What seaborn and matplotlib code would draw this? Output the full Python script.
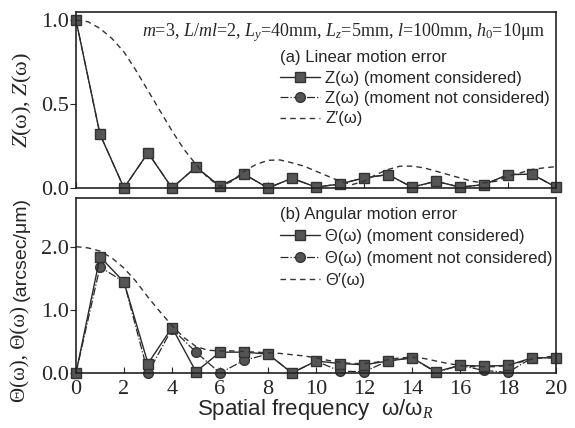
import numpy as np
import pandas as pd
import matplotlib
matplotlib.use('Agg')
import matplotlib.pyplot as plt
import seaborn as sns

# spatial frequency (integer harmonics)
freq = list(range(21))
# fine grid for the analytic dashed curves
freq_fine = [i * 0.5 for i in range(41)]

# (a) linear motion error
z_moment = [1.0, 0.32, 0.0, 0.21, 0.0, 0.125, 0.01, 0.083, 0.0, 0.058, 0.005,
            0.024, 0.06, 0.08, 0.005, 0.04, 0.005, 0.02, 0.08, 0.082, 0.005]
z_no_moment = [1.0, 0.32, 0.0, 0.21, 0.0, 0.125, 0.01, 0.083, 0.0, 0.058, 0.005,
               0.024, 0.06, 0.08, 0.005, 0.04, 0.005, 0.02, 0.08, 0.082, 0.005]
z_prime = [1.0, 0.99, 0.95, 0.89, 0.81, 0.70, 0.58, 0.46, 0.34, 0.23, 0.14,
           0.06, 0.01, 0.04, 0.10, 0.14, 0.165, 0.167, 0.15, 0.13, 0.10,
           0.07, 0.04, 0.02, 0.04, 0.08, 0.11, 0.13, 0.13, 0.12, 0.10,
           0.08, 0.06, 0.04, 0.03, 0.04, 0.07, 0.09, 0.11, 0.12, 0.127]

# (b) angular motion error
th_moment = [0.0, 1.84, 1.44, 0.15, 0.72, 0.02, 0.33, 0.33, 0.30, 0.0, 0.19,
             0.15, 0.13, 0.19, 0.24, 0.02, 0.12, 0.11, 0.12, 0.24, 0.24]
th_no_moment = [0.0, 1.68, 1.44, 0.0, 0.70, 0.33, 0.0, 0.20, 0.30, 0.0, 0.19,
                0.03, 0.02, 0.19, 0.24, 0.01, 0.12, 0.04, 0.01, 0.24, 0.24]
th_prime = [2.0, 1.98, 1.93, 1.82, 1.66, 1.45, 1.20, 0.97, 0.75, 0.56, 0.42,
            0.36, 0.35, 0.35, 0.34, 0.33, 0.32, 0.31, 0.29, 0.27, 0.24,
            0.20, 0.17, 0.15, 0.15, 0.17, 0.21, 0.24, 0.25, 0.23, 0.19,
            0.15, 0.12, 0.10, 0.10, 0.10, 0.12, 0.17, 0.22, 0.25, 0.27]

sns.set_style('ticks')
plt.rcParams['font.family'] = ['Liberation Serif', 'DejaVu Serif']
plt.rcParams['mathtext.fontset'] = 'custom'
plt.rcParams['mathtext.it'] = 'Liberation Serif:italic'
plt.rcParams['mathtext.rm'] = 'Liberation Serif'

W, H = 575, 428
fig = plt.figure(figsize=(W / 100, H / 100), dpi=100)


def fx(px):
    return px / W


def fy(py):
    return 1 - py / H


ax1 = fig.add_axes([fx(76), fy(188), fx(556) - fx(76), fy(12) - fy(188)])
ax2 = fig.add_axes([fx(76), fy(373), fx(556) - fx(76), fy(198) - fy(373)])

line_col = '#2a2a2a'
mk = dict(markersize=7, markerfacecolor='#555555', markeredgecolor='#333333',
          markeredgewidth=1, clip_on=False)


def draw_panel(ax, y_mom, y_nomom, y_prime, labels):
    sns.lineplot(x=freq, y=y_nomom, ax=ax, color=line_col, linewidth=0.9,
                 linestyle='-.', marker='o', label=labels[1], **mk)
    sns.lineplot(x=freq, y=y_mom, ax=ax, color=line_col, linewidth=1.0,
                 linestyle='-', marker='s', label=labels[0], **mk)
    sns.lineplot(x=freq_fine, y=y_prime, ax=ax, color='#333333', linewidth=1.0,
                 linestyle=(0, (4, 3)), label=labels[2])
    ax.set_xlim(0, 20)
    ax.set_xticks(range(0, 21, 2))
    ax.tick_params(axis='x', direction='in', length=4, labelsize=16, pad=5)
    ax.tick_params(axis='y', direction='out', length=4, labelsize=16, pad=1)
    for s in ax.spines.values():
        s.set_linewidth(1.2)
        s.set_color('#222222')
    ax.set_xlabel('')
    ax.set_ylabel('')


draw_panel(ax1, z_moment, z_no_moment, z_prime,
           ['Z(ω) (moment considered)', 'Z(ω) (moment not considered)', 'Z′(ω)'])
ax1.set_ylim(0, 1.048)
ax1.set_yticks([0.0, 0.5, 1.0])
ax1.set_yticklabels(['0.0', '0.5', '1.0'])
ax1.tick_params(axis='x', labelbottom=False)

draw_panel(ax2, th_moment, th_no_moment, th_prime,
           ['Θ(ω) (moment considered)', 'Θ(ω) (moment not considered)', 'Θ′(ω)'])
ax2.set_ylim(0, 2.77)
ax2.set_yticks([0.0, 1.0, 2.0])
ax2.set_yticklabels(['0.0', '1.0', '2.0'])


def make_legend(ax, title, top_px, spacing):
    h, l = ax.get_legend_handles_labels()
    order = [1, 0, 2]
    leg = ax.legend([h[i] for i in order], [l[i] for i in order], title=title,
                    loc='upper left', bbox_to_anchor=(fx(280), fy(top_px)),
                    bbox_transform=fig.transFigure, frameon=False,
                    borderpad=0, borderaxespad=0, handlelength=2.4,
                    handletextpad=0.3, labelspacing=spacing, alignment='left',
                    prop={'family': 'Liberation Sans', 'size': 12},
                    title_fontproperties={'family': 'Liberation Sans', 'size': 12})
    return leg


make_legend(ax1, '(a) Linear motion error', 50, 0.33)
make_legend(ax2, '(b) Angular motion error', 207, 0.42)

fig.text(fx(545), fy(33),
         r'$m$=3, $L$/$ml$=2, $L_y$=40mm, $L_z$=5mm, $l$=100mm, $h_0$=10μm',
         ha='right', va='center', fontsize=13, family='Liberation Serif')

fig.text(fx(22), fy(100), r'$Z$(ω), $Z$(ω)', rotation=90, ha='center',
         va='center', fontsize=16, family='Liberation Serif')

# bottom y label: serif symbols followed by sans units, stacked along the axis
t1 = fig.text(fx(21), fy(402), 'Θ(ω), Θ(ω)', rotation=90, ha='center',
              va='bottom', fontsize=15, family='Liberation Serif')
fig.canvas.draw()
bb = t1.get_window_extent()
fig.text(fx(21), (bb.y1 + 5) / H, '(arcsec/μm)', rotation=90, ha='center',
         va='bottom', fontsize=14, family='Liberation Sans')

fig.text(fx(315), fy(410), r'Spatial frequency  ω/ω$_R$', ha='center',
         va='center', fontsize=16, family='Liberation Sans')

fig.savefig('out.png', dpi=100)
